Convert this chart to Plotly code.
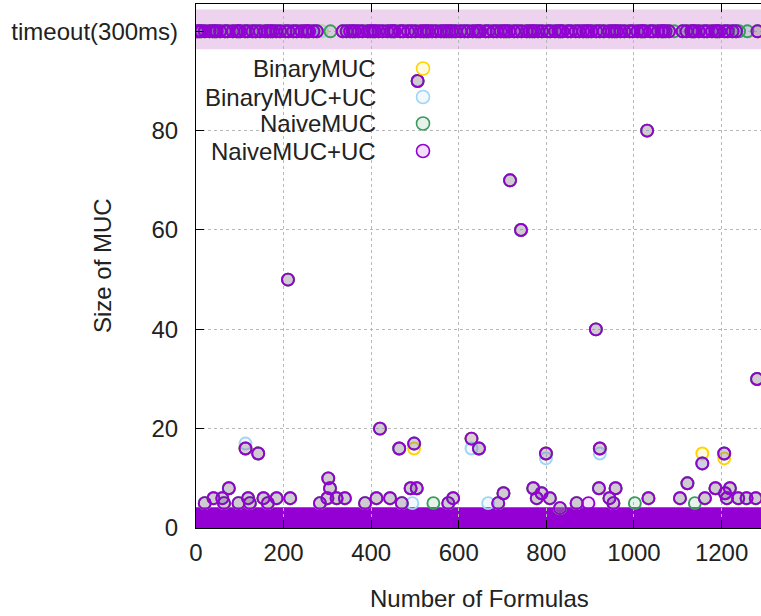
import plotly.graph_objects as go

# ---------------- data ----------------
SERIES = ["BinaryMUC", "BinaryMUC+UC", "NaiveMUC", "NaiveMUC+UC"]
TIMEOUT_VALUE = 100
X_TICKS = [0, 200, 400, 600, 800, 1000, 1200]
Y_TICKS = [0, 20, 40, 60, 80, 100]
Y_TICK_TEXT = ["0", "20", "40", "60", "80", "timeout(300ms)"]

# formulas that timed out for every solver
TIMEOUT_SHARED = [3, 8, 12, 20, 31, 38, 43, 47, 55, 66, 72, 84, 93, 97, 101, 112, 118, 129,
                  137, 146, 158, 164, 170, 175, 183, 192, 204, 211, 222, 230, 241, 249, 254,
                  258, 268, 276,
                  335, 344, 352, 358, 363, 371, 380, 392, 398, 404, 409, 417, 426, 437, 445,
                  450, 454, 466, 473, 484, 492, 501, 513, 520, 526, 531, 539, 548, 559, 566,
                  572, 578, 584, 593,
                  604, 613, 621, 632, 640, 645, 649, 661, 668, 679, 687, 696, 703, 708, 715,
                  726, 734, 743, 755, 762, 768, 773, 781, 790, 802, 809, 820, 828, 832, 837,
                  849, 856, 867, 875, 884, 891, 896, 903, 914, 922, 931, 943, 950, 956, 961,
                  969, 978, 990, 997, 1008, 1016, 1020, 1025, 1037, 1044, 1055, 1063, 1067,
                  1072, 1080,
                  1111, 1120, 1131, 1135, 1139, 1148, 1160, 1167, 1178, 1186, 1190, 1195,
                  1207, 1214, 1225, 1233, 1282]
# extra timeouts per solver
TIMEOUT_EXTRA = {
    "BinaryMUC": [287],
    "BinaryMUC+UC": [287, 1259],
    "NaiveMUC": [307, 589, 1092, 1240, 1259],
    "NaiveMUC+UC": [],
}

# formulas whose MUC size is above the dense 0-3 region
FORMULA_IDX = [20, 40, 60, 64, 75, 97, 113, 119, 123, 142, 154, 164, 184, 210, 215, 283,
               300, 302, 306, 321, 340, 386, 412, 420, 443, 464, 470, 490, 494, 498, 504,
               506, 542, 576, 587, 629, 646, 667, 690, 702, 717, 742, 770, 778, 789, 799,
               808, 831, 869, 896, 913, 920, 922, 944, 953, 958, 1002, 1030, 1033, 1105,
               1122, 1139, 1156, 1162, 1186, 1206, 1208, 1212, 1219, 1238, 1257, 1278, 1281]
MUC_NAIVE_UC = [5, 6, 6, 5, 8, 5, 16, 6, 5, 15, 6, 5, 6, 50, 6, 5,
                6, 10, 8, 6, 6, 5, 6, 20, 6, 16, 5, 8, 3, 17, 8,
                90, 3, 5, 6, 18, 16, 3, 5, 7, 70, 60, 8, 6, 7, 15,
                6, 4, 5, 5, 40, 8, 16, 6, 5, 8, 3, 80, 6, 6,
                9, 3, 13, 6, 8, 15, 7, 6, 8, 6, 6, 6, 30]
MUC_NAIVE = [5, 6, 6, 5, 8, 5, 16, 6, 5, 15, 6, 5, 6, 50, 6, 5,
             6, 10, 8, 6, 6, 5, 6, 20, 6, 16, 5, 8, 3, 17, 8,
             90, 5, 5, 6, 18, 16, 3, 5, 7, 70, 60, 8, 6, 7, 15,
             6, 4, 5, 3, 40, 8, 16, 6, 5, 8, 5, 80, 6, 6,
             9, 5, 13, 6, 8, 15, 7, 6, 8, 6, 6, 6, 30]
MUC_BINARY_UC = [5, 6, 6, 5, 8, 5, 17, 6, 5, 15, 6, 5, 6, 50, 6, 5,
                 6, 10, 8, 6, 6, 5, 6, 20, 6, 16, 5, 8, 5, 17, 8,
                 90, 3, 5, 6, 16, 16, 5, 5, 7, 70, 60, 8, 6, 7, 14,
                 6, 4, 5, 3, 40, 8, 15, 6, 5, 8, 3, 80, 6, 6,
                 9, 3, 13, 6, 8, 15, 7, 6, 8, 6, 6, 6, 30]
MUC_BINARY = [5, 6, 6, 5, 8, 5, 16, 6, 5, 15, 6, 5, 6, 50, 6, 5,
              6, 10, 8, 6, 6, 5, 6, 20, 6, 16, 5, 8, 3, 16, 8,
              90, 3, 5, 6, 18, 16, 3, 5, 7, 70, 60, 8, 6, 7, 15,
              6, 4, 5, 3, 40, 8, 16, 6, 5, 8, 3, 80, 6, 6,
              9, 3, 15, 6, 8, 14, 7, 6, 8, 6, 6, 6, 30]
MUC_VALUES = {"BinaryMUC": MUC_BINARY, "BinaryMUC+UC": MUC_BINARY_UC,
              "NaiveMUC": MUC_NAIVE, "NaiveMUC+UC": MUC_NAIVE_UC}
DENSE_MAX = 3          # sizes 0..3 occur for (almost) every formula

# ---------------- style ----------------
LINE_COLORS = {"BinaryMUC": "rgb(255,212,0)", "BinaryMUC+UC": "rgb(160,212,242)",
               "NaiveMUC": "rgb(58,154,92)", "NaiveMUC+UC": "rgb(148,0,211)"}
FILL_COLORS = {"BinaryMUC": "rgba(255,212,0,0.12)", "BinaryMUC+UC": "rgba(160,212,242,0.15)",
               "NaiveMUC": "rgba(58,154,92,0.13)", "NaiveMUC+UC": "rgba(148,0,211,0.12)"}
FONT = "Liberation Sans, Arial, sans-serif"
FS = 24
W, H = 761, 616
ML, MT, MB, MR = 196, 4, 88, 0
X_MAX, Y_MAX = 1290, 105.5

fig = go.Figure()
for name in SERIES:
    xs = TIMEOUT_SHARED + TIMEOUT_EXTRA[name]
    ys = [TIMEOUT_VALUE] * len(xs)
    for xi, yi in zip(FORMULA_IDX, MUC_VALUES[name]):
        if yi > DENSE_MAX:
            xs.append(xi)
            ys.append(yi)
    fig.add_trace(go.Scatter(
        x=xs, y=ys, mode="markers", name=name, showlegend=False,
        marker=dict(symbol="circle", size=12, color=FILL_COLORS[name],
                    line=dict(color=LINE_COLORS[name], width=1.9)),
        cliponaxis=True))

shapes = [
    # timeout band
    dict(type="rect", xref="x", yref="y", x0=0, x1=X_MAX, y0=96.4, y1=104.4,
         fillcolor="rgb(238,211,239)", line=dict(width=0), layer="below"),
    # dense region of small MUCs
    dict(type="rect", xref="x", yref="y", x0=0, x1=X_MAX, y0=0, y1=DENSE_MAX + 1.2,
         fillcolor="rgb(148,0,211)", line=dict(width=0), layer="below"),
]

# custom legend (gnuplot style: text right aligned, marker to the right)
annotations = []
plot_w = W - ML - MR
plot_h = H - MT - MB
leg_rows = [68.5, 97, 123.5, 151]
for name, py in zip(SERIES, leg_rows):
    yp = (H - MB - py) / plot_h
    annotations.append(dict(text=name, xref="paper", yref="paper", x=(378 - ML) / plot_w, y=yp,
                            xanchor="right", yanchor="middle", showarrow=False,
                            font=dict(family=FONT, size=FS, color="#222")))
    shapes.append(dict(type="circle", xref="paper", yref="paper",
                       xsizemode="pixel", ysizemode="pixel",
                       xanchor=(423 - ML) / plot_w, yanchor=yp,
                       x0=-6.5, x1=6.5, y0=-6.5, y1=6.5,
                       fillcolor=FILL_COLORS[name],
                       line=dict(color=LINE_COLORS[name], width=1.6), layer="above"))

annotations.append(dict(text="Size of MUC", xref="paper", yref="paper",
                        x=(102 - ML) / plot_w, y=0.5, textangle=-90, showarrow=False,
                        xanchor="center", yanchor="middle",
                        font=dict(family=FONT, size=FS, color="#222")))
annotations.append(dict(text="Number of Formulas", xref="paper", yref="paper",
                        x=(479 - ML) / plot_w, y=(H - MB - 598) / plot_h, showarrow=False,
                        xanchor="center", yanchor="middle",
                        font=dict(family=FONT, size=FS, color="#222")))

fig.update_layout(
    width=W, height=H, margin=dict(l=ML, r=MR, t=MT, b=MB),
    paper_bgcolor="white", plot_bgcolor="white",
    font=dict(family=FONT, size=FS, color="#222"),
    shapes=shapes, annotations=annotations, showlegend=False,
    xaxis=dict(range=[0, X_MAX], tickvals=X_TICKS, ticks="inside", ticklen=8,
               tickcolor="black", showline=True, linecolor="black", linewidth=1.2,
               mirror="ticks", showgrid=True, gridcolor="#b8b8b8", griddash="dot",
               gridwidth=1, zeroline=False, ticklabelstandoff=3),
    yaxis=dict(range=[0, Y_MAX], tickvals=Y_TICKS, ticktext=Y_TICK_TEXT, ticks="inside",
               ticklen=8, tickcolor="black", showline=True, linecolor="black",
               linewidth=1.2, mirror=False, showgrid=True, gridcolor="#b8b8b8",
               griddash="dot", gridwidth=1, zeroline=False, ticklabelstandoff=12),
)

fig.write_html("out.html")
